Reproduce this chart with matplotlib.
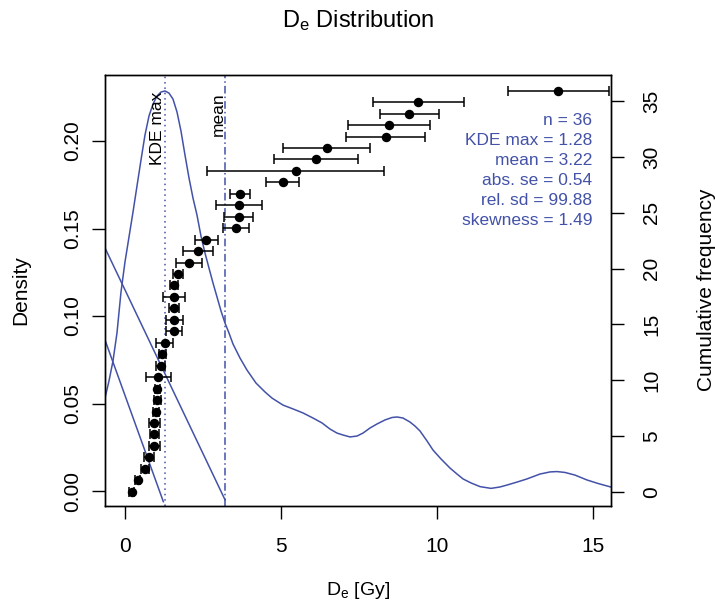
import matplotlib
matplotlib.use('Agg')
import matplotlib.pyplot as plt
import numpy as np

plt.rcParams['font.family'] = ['Liberation Sans', 'DejaVu Sans']
plt.rcParams['mathtext.fontset'] = 'custom'
plt.rcParams['mathtext.rm'] = 'Liberation Sans'
plt.rcParams['mathtext.it'] = 'Liberation Sans:italic'

BLUE = '#4352A8'

# De values (sorted) and their standard errors
de_values = [0.21, 0.41, 0.64, 0.78, 0.94, 0.94, 0.94, 0.99, 1.04, 1.04,
             1.07, 1.15, 1.20, 1.28, 1.58, 1.58, 1.58, 1.58, 1.58, 1.69,
             2.05, 2.34, 2.60, 3.56, 3.65, 3.65, 3.69, 5.06, 5.47, 6.12,
             6.47, 8.36, 8.47, 9.12, 9.41, 13.90]
de_errors = [0.08, 0.08, 0.12, 0.16, 0.18, 0.15, 0.18, 0.10, 0.12, 0.08,
             0.41, 0.14, 0.10, 0.27, 0.25, 0.27, 0.16, 0.36, 0.13, 0.16,
             0.42, 0.48, 0.37, 0.43, 0.46, 0.74, 0.31, 0.53, 2.83, 1.35,
             1.40, 1.27, 1.32, 0.95, 1.47, 1.63]
cum_index = np.arange(1, len(de_values) + 1)

# KDE curve
kde_x = [-0.641, -0.513, -0.385, -0.257, -0.128, 0.0, 0.128, 0.257, 0.385, 0.513,
         0.641, 0.770, 0.898, 1.026, 1.155, 1.283, 1.411, 1.539, 1.668, 1.796,
         1.924, 2.053, 2.181, 2.309, 2.437, 2.566, 2.694, 2.822, 2.951, 3.079,
         3.207, 3.335, 3.464, 3.688, 3.913, 4.201, 4.490, 4.715, 5.067, 5.388,
         5.709, 6.029, 6.318, 6.575, 6.799, 6.992, 7.216, 7.441, 7.633, 7.858,
         8.082, 8.339, 8.563, 8.724, 8.916, 9.141, 9.301, 9.461, 9.686, 9.878,
         10.135, 10.424, 10.648, 10.841, 11.097, 11.386, 11.738, 12.027, 12.251, 12.572,
         12.893, 13.310, 13.631, 13.855, 14.112, 14.432, 14.817, 15.170, 15.577]
kde_y = [0.0531, 0.0629, 0.0743, 0.0903, 0.1137, 0.1309, 0.1451, 0.1594, 0.1743, 0.1891,
         0.2034, 0.2143, 0.2211, 0.2257, 0.2280, 0.2286, 0.2274, 0.2240, 0.2166, 0.2057,
         0.1920, 0.1789, 0.1674, 0.1577, 0.1457, 0.1360, 0.1274, 0.1189, 0.1109, 0.1029,
         0.0960, 0.0903, 0.0840, 0.0760, 0.0691, 0.0617, 0.0566, 0.0531, 0.0491, 0.0469,
         0.0446, 0.0417, 0.0389, 0.0354, 0.0331, 0.0320, 0.0309, 0.0314, 0.0331, 0.0360,
         0.0383, 0.0406, 0.0420, 0.0423, 0.0417, 0.0394, 0.0371, 0.0343, 0.0286, 0.0234,
         0.0183, 0.0131, 0.0097, 0.0069, 0.0046, 0.0025, 0.0015, 0.0023, 0.0034, 0.0051,
         0.0069, 0.0097, 0.0109, 0.0111, 0.0106, 0.0091, 0.0063, 0.0043, 0.0023]

kde_max = 1.28
de_mean = 3.22
stats = ["n = 36", "KDE max = 1.28", "mean = 3.22",
         "abs. se = 0.54", "rel. sd = 99.88", "skewness = 1.49"]

# straight guide lines seen on the chart (start, end)
line_a_x = [-0.641, 1.23]
line_a_y = [0.0863, -0.0061]
line_b_x = [-0.641, 3.21]
line_b_y = [0.1389, -0.0051]

right_ticks = [0, 5, 10, 15, 20, 25, 30, 35]

fig = plt.figure(figsize=(7.15, 6.11), dpi=100)
ax = fig.add_axes([105 / 715, 1 - 505.7 / 611, 505.7 / 715, 431 / 611])

ax.plot(kde_x, kde_y, color=BLUE, lw=1.1)
ax.plot(line_a_x, line_a_y, color=BLUE, lw=1.1)
ax.plot(line_b_x, line_b_y, color=BLUE, lw=1.1)
ax.axvline(kde_max, color=BLUE, lw=1.1, ls=(0, (1, 2.5)))
ax.axvline(de_mean, color=BLUE, lw=1.1, ls=(0, (5, 2, 1, 2)))

ax.set_xlim(-0.641, 15.577)
ax.set_ylim(-0.0084, 0.2379)
ax.set_xticks([0, 5, 10, 15])
ax.set_yticks([0.0, 0.05, 0.10, 0.15, 0.20])
ax.set_yticklabels(["0.00", "0.05", "0.10", "0.15", "0.20"])
ax.tick_params(length=9.5, width=1.0, labelsize=15, direction='out')
ax.tick_params(axis='x', pad=13)
ax.tick_params(axis='y', labelrotation=90, pad=7)
for t in ax.get_yticklabels():
    t.set_va('center')

ax.set_xlabel(r'D$_\mathrm{e}$ [Gy]', fontsize=14, labelpad=17)
ax.set_ylabel('Density', fontsize=15, labelpad=24)
ax.set_title(r'D$_\mathrm{e}$ Distribution', fontsize=17, pad=34)

ax.text(kde_max - 0.24, 0.228, 'KDE max', rotation=90, ha='center', va='top', fontsize=12.5)
ax.text(de_mean - 0.23, 0.228, 'mean', rotation=90, ha='center', va='top', fontsize=12.5)

for i, s in enumerate(stats):
    ax.text(0.9636, 0.8926 - i * 0.0464, s, transform=ax.transAxes,
            ha='right', va='center', fontsize=12.5, color=BLUE)

ax2 = ax.twinx()
ax2.errorbar(de_values, cum_index, xerr=de_errors, fmt='o', color='black',
             ms=5.8, elinewidth=1.1, capsize=3.6, capthick=1.1)
ax2.set_ylim(-0.222, 37.40)
# right axis labels sit on a slightly different scale than the point index
ax2.set_yticks([1 + v * 0.97355 for v in right_ticks])
ax2.set_yticklabels([str(v) for v in right_ticks])
ax2.tick_params(length=9.5, width=1.0, labelsize=15, direction='out',
                labelrotation=90, pad=13)
for t in ax2.get_yticklabels():
    t.set_va('center')
ax2.set_ylabel('Cumulative frequency', fontsize=15, labelpad=26)

for a in (ax, ax2):
    for sp in a.spines.values():
        sp.set_linewidth(1.0)

fig.savefig('out.png', dpi=100, facecolor='white')
